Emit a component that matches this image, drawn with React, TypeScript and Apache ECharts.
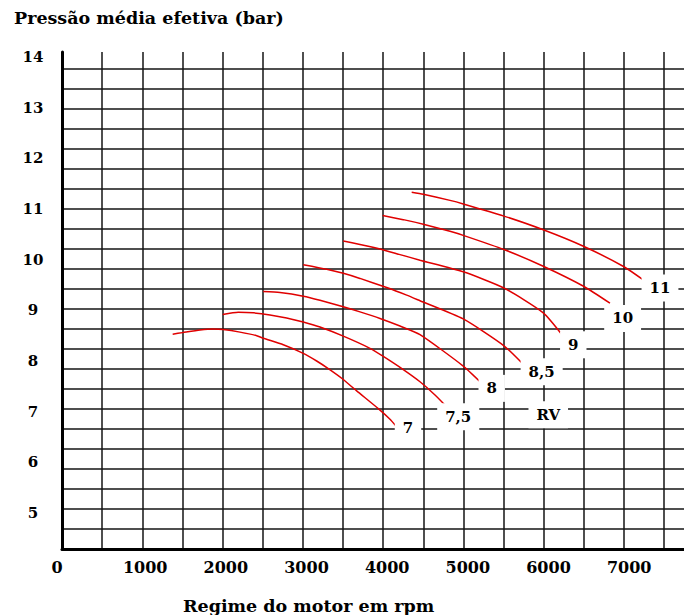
import React, { useEffect, useRef } from "react";
import * as echarts from "echarts";

// Axis tick values
const xTickValues = [0, 1000, 2000, 3000, 4000, 5000, 6000, 7000];
const yTickValues = [5, 6, 7, 8, 9, 10, 11, 12, 13, 14];

// Curves: RV (compression ratio) 7 ... 11 — rpm vs mean effective pressure (bar)
const rpm7 = [1341, 1465, 1680, 1845, 1968, 2175, 2383, 2464, 2712, 2960, 3126, 3270, 3436, 3622, 3890, 4035, 4118];
const bar7 = [8.53, 8.56, 8.61, 8.63, 8.62, 8.57, 8.5, 8.45, 8.32, 8.15, 8.0, 7.85, 7.66, 7.41, 7.06, 6.85, 6.70];

const rpm75 = [1961, 2154, 2340, 2547, 2754, 2960, 3167, 3456, 3787, 3952, 4200, 4407, 4593, 4754];
const bar75 = [8.92, 8.96, 8.95, 8.91, 8.85, 8.77, 8.67, 8.49, 8.25, 8.09, 7.83, 7.59, 7.33, 7.07];

const rpm8 = [2464, 2671, 2960, 3167, 3456, 3663, 3911, 4159, 4407, 4943, 5172];
const bar8 = [9.37, 9.35, 9.28, 9.2, 9.07, 8.97, 8.84, 8.69, 8.52, 7.9, 7.56];

const rpm85 = [2960, 3250, 3456, 3663, 3994, 4242, 4407, 4943, 5448, 5696];
const bar85 = [9.9, 9.81, 9.73, 9.63, 9.45, 9.3, 9.19, 8.83, 8.3, 7.92];

const rpm9 = [3456, 3663, 3911, 4159, 4407, 4943, 5448, 5935, 6176];
const bar9 = [10.37, 10.3, 10.21, 10.1, 9.99, 9.76, 9.44, 8.95, 8.5];

const rpm10 = [3944, 4200, 4448, 4779, 4943, 5448, 5935, 6440, 6762];
const bar10 = [10.87, 10.79, 10.7, 10.56, 10.48, 10.2, 9.87, 9.47, 9.14];

const rpm11 = [4304, 4448, 4779, 4943, 5448, 5935, 6440, 6936, 7175];
const bar11 = [11.33, 11.29, 11.17, 11.1, 10.86, 10.59, 10.26, 9.86, 9.6];

const curveRpm = [rpm7, rpm75, rpm8, rpm85, rpm9, rpm10, rpm11];
const curveBar = [bar7, bar75, bar8, bar85, bar9, bar10, bar11];
const curveNames = ["7", "7,5", "8", "8,5", "9", "10", "11"];

// Curve annotations
const labelTexts = ["7", "7,5", "8", "8,5", "9", "10", "11", "RV"];
const labelRpm = [4258, 4881, 5296, 5915, 6307, 6919, 7382, 5997];
const labelBar = [6.68, 6.9, 7.46, 7.79, 8.32, 8.84, 9.44, 6.94];

const FONT = "DejaVu Serif";

export default function App() {
  const ref = useRef<HTMLDivElement>(null);

  useEffect(() => {
    if (!ref.current) return;
    const chart = echarts.init(ref.current, undefined, { renderer: "svg" });

    const textBase = { fontFamily: FONT, fontWeight: "bold" as const, color: "#000" };

    const lineSeries = curveNames.map((name, i) => ({
      name,
      type: "line",
      xAxisIndex: 0,
      yAxisIndex: 0,
      data: curveRpm[i].map((r, j) => [r, curveBar[i][j]]),
      showSymbol: false,
      smooth: 0.2,
      lineStyle: { color: "#e00000", width: 1.5 },
      z: 3,
    }));

    const option: any = {
      animation: false,
      backgroundColor: "#fff",
      title: [
        {
          text: "Pressão média efetiva (bar)",
          left: 14,
          top: 9,
          padding: 0,
          textStyle: { ...textBase, fontSize: 17.5 },
        },
        {
          text: "Regime do motor em rpm",
          left: 183,
          top: 597,
          padding: 0,
          textStyle: { ...textBase, fontSize: 17.5 },
        },
      ],
      grid: [
        { left: 64.5, right: 14.5, top: 57, bottom: 102 },
        { left: 62, right: 0, top: 52, bottom: 66 },
      ],
      xAxis: [
        {
          gridIndex: 0,
          type: "value",
          min: xTickValues[0],
          max: 7500,
          interval: 1000,
          axisLine: { show: false },
          axisTick: { show: false },
          splitLine: { show: false },
          axisLabel: {
            margin: 46,
            fontSize: 16,
            showMaxLabel: false,
            ...textBase,
            formatter: (v: number) =>
              xTickValues.indexOf(v) < 0 ? "" : v === 0 ? "{z|0}" : String(v),
            rich: { z: { ...textBase, fontSize: 16, padding: [0, 15, 0, 0] } },
          },
        },
        {
          gridIndex: 1,
          type: "value",
          min: 0,
          max: 622 / 40.14,
          interval: 1,
          axisLine: { show: true, lineStyle: { color: "#000", width: 3 } },
          axisTick: { show: false },
          axisLabel: { show: false },
          splitLine: {
            show: true,
            showMinLine: false,
            showMaxLine: false,
            lineStyle: { color: "#151515", width: 1.5 },
          },
        },
      ],
      yAxis: [
        {
          gridIndex: 0,
          type: "value",
          min: yTickValues[0],
          max: yTickValues[yTickValues.length - 1],
          interval: 1,
          axisLine: { show: false },
          axisTick: { show: false },
          splitLine: { show: false },
          axisLabel: { margin: 31.5, align: "center", fontSize: 15, ...textBase },
        },
        {
          gridIndex: 1,
          type: "value",
          min: 0,
          max: 497 / 20,
          interval: 1,
          axisLine: { show: true, lineStyle: { color: "#000", width: 3 } },
          axisTick: { show: false },
          axisLabel: { show: false },
          splitLine: {
            show: true,
            showMinLine: false,
            showMaxLine: false,
            lineStyle: { color: "#151515", width: 1.5 },
          },
        },
      ],
      series: [
        ...lineSeries,
        {
          type: "scatter",
          xAxisIndex: 0,
          yAxisIndex: 0,
          symbol: "circle",
          symbolSize: 1,
          itemStyle: { color: "#fff", opacity: 1 },
          z: 10,
          data: labelTexts.map((t, i) => [labelRpm[i], labelBar[i], t]),
          label: {
            show: true,
            position: "inside",
            formatter: (p: any) => p.data[2],
            ...textBase,
            fontSize: 15,
            opacity: 1,
            textBorderWidth: 0,
            backgroundColor: "#fff",
            padding: [6, 8],
          },
        },
      ],
    };

    chart.setOption(option);
    return () => chart.dispose();
  }, []);

  return (
    <div
      ref={ref}
      style={{ position: "absolute", left: 0, top: 0, width: 684, height: 615, background: "#fff" }}
    />
  );
}
